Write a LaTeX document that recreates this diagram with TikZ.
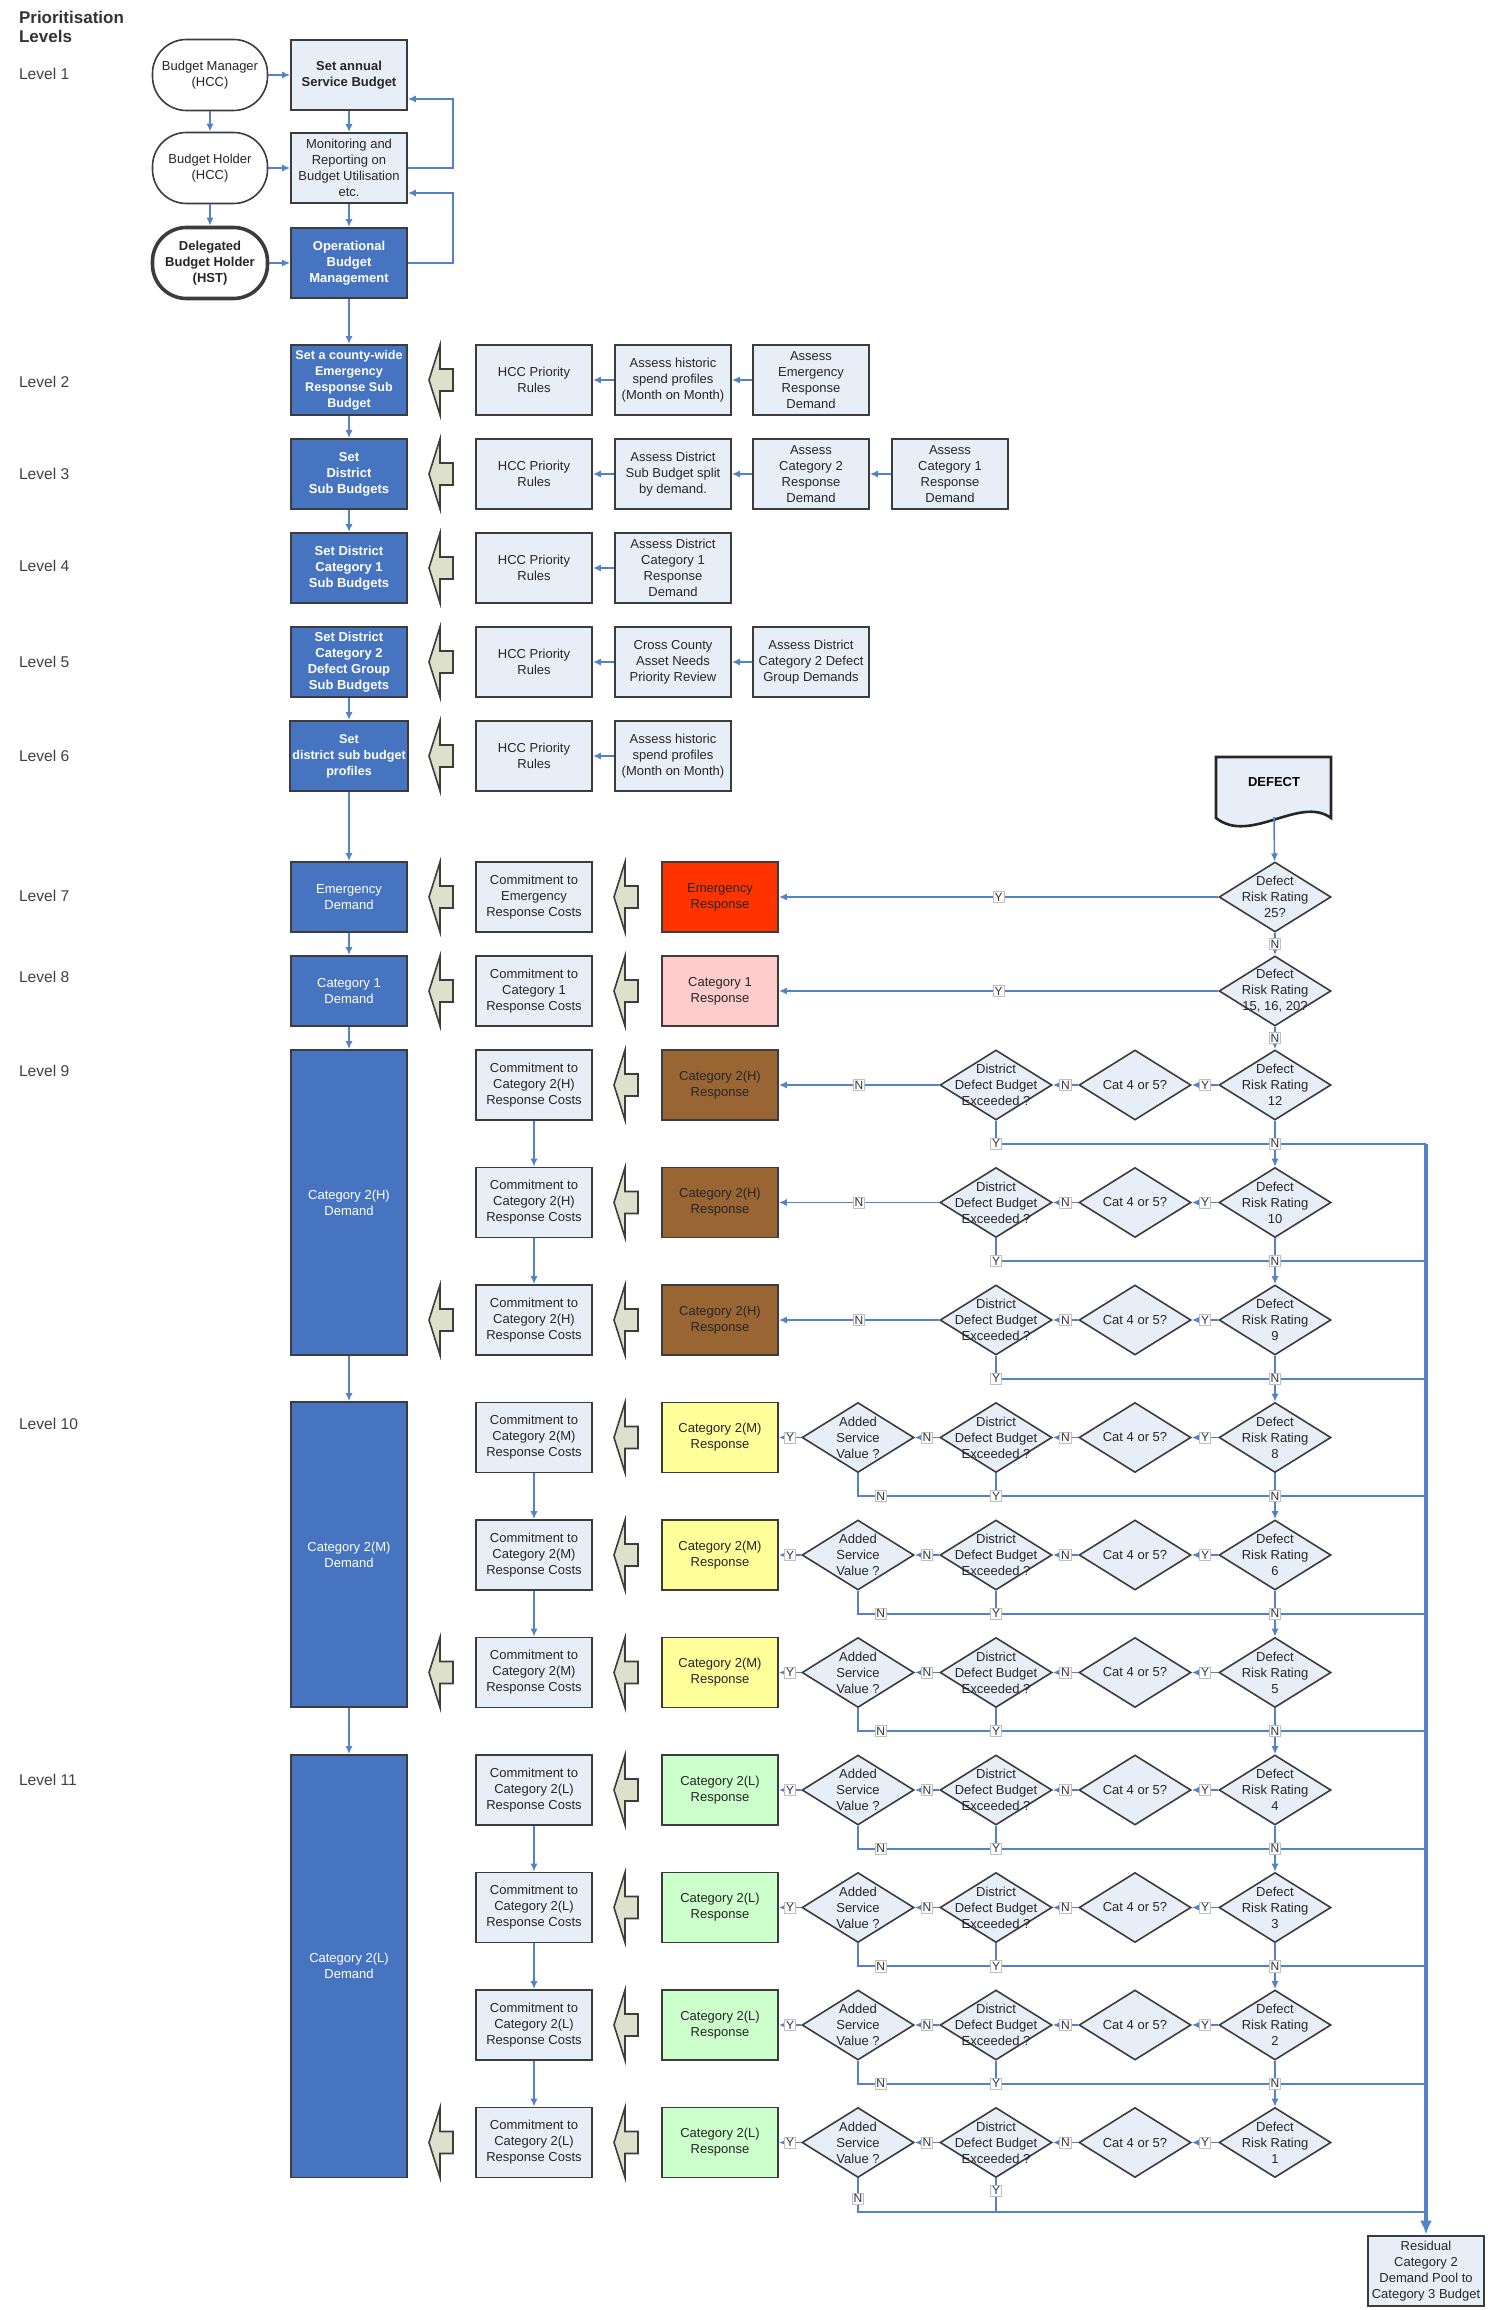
\documentclass[tikz,border=0pt]{standalone}
\usepackage{fontspec}
\setmainfont{Liberation Sans}
\usetikzlibrary{shapes.geometric,arrows.meta}

\definecolor{boxfill}{RGB}{232,238,248}
\definecolor{boxline}{RGB}{60,60,60}
\definecolor{blueb}{RGB}{70,116,193}
\definecolor{conblue}{RGB}{84,130,200}
\definecolor{arrfill}{RGB}{221,225,203}
\definecolor{emred}{RGB}{255,51,0}
\definecolor{catone}{RGB}{255,204,204}
\definecolor{cathigh}{RGB}{153,102,51}
\definecolor{catmed}{RGB}{255,255,153}
\definecolor{catlow}{RGB}{204,255,204}

\tikzset{
  txt/.style={font=\fontsize{6.5}{8}\selectfont, align=center, text=black!85},
  heavy/.style={font=\fontsize{6.5}{8}\selectfont\bfseries},
  lbox/.style={txt, rectangle, draw=boxline, fill=boxfill, line width=0.9pt,
    minimum width=58pt, minimum height=35pt, inner sep=1pt},
  bbox/.style={lbox, fill=blueb, text=white},
  resp/.style={lbox, fill=#1},
  oval/.style={txt, rectangle, rounded corners=17pt, draw=boxline, line width=0.8pt,
    fill=white, minimum width=57.5pt, minimum height=35.5pt},
  dia/.style={diamond, draw=boxline, fill=boxfill, line width=0.8pt,
    minimum width=56pt, minimum height=35pt, inner sep=0pt},
  dtxt/.style={txt, inner sep=0pt},
  con/.style={draw=conblue, line width=0.8pt, -{Latex[length=4pt,width=3.6pt]}},
  pipe/.style={draw=conblue, line width=0.8pt},
  yn/.style={font=\fontsize{6}{6}\selectfont, fill=white, draw=black!25,
    line width=0.3pt, inner sep=0.7pt, text=black!80},
  lvl/.style={font=\fontsize{7.8}{9}\selectfont, text=black!75, anchor=west},
  bigarr/.pic={\draw[fill=arrfill, draw=boxline, line width=0.8pt]
    (-12,0) -- (-1,-35) -- (-1,-11) -- (12,-11) -- (12,11) -- (-1,11) -- (-1,35) -- cycle;}
}

\begin{document}
\begin{tikzpicture}[x=0.5pt,y=-0.5pt]
  \useasboundingbox (0,0) rectangle (1487,2310);
  %Levels
  \node[lvl, font=\fontsize{8.5}{9.5}\selectfont\bfseries, align=left, text=black!80] (ttl) at (12,27) {Prioritisation\\Levels};
  \foreach \n/\yy in {1/74,2/382,3/474,4/566,5/662,6/756,7/896,8/977,9/1071,10/1424,11/1780}
    \node[lvl] (lv\n) at (12,\yy) {Level \n};

  %Level 1
  \node[oval] (bm) at (210,75) {Budget Manager\\(HCC)};
  \node[oval] (bh) at (210,168) {Budget Holder\\(HCC)};
  \node[oval, line width=1.8pt, heavy] (dbh) at (210,263) {Delegated\\Budget Holder\\(HST)};
  \node[lbox, heavy] (sab) at (349,75) {Set annual\\Service Budget};
  \node[lbox] (mon) at (349,168) {Monitoring and\\Reporting on\\Budget Utilisation\\etc.};
  \node[bbox, heavy] (obm) at (349,263) {Operational\\Budget\\Management};
  \draw[con] (bm) -- (sab);
  \draw[con] (bh) -- (mon);
  \draw[con] (dbh) -- (obm);
  \draw[con] (bm) -- (bh);
  \draw[con] (bh) -- (dbh);
  \draw[con] (sab) -- (mon);
  \draw[con] (mon) -- (obm);
  \coordinate (fb1) at (453,99);
  \coordinate (fb2) at (453,193);
  \draw[con] (mon.east) -| (fb1) -- (fb1 -| sab.east);
  \draw[con] (obm.east) -| (fb2) -- (fb2 -| mon.east);

  %Levels 2 to 6
  \node[bbox, heavy, font=\fontsize{6.3}{8}\selectfont\bfseries] (b2) at (349,380) {Set a county-wide\\Emergency\\Response Sub\\Budget};
  \node[bbox, heavy] (b3) at (349,474) {Set\\District\\Sub Budgets};
  \node[bbox, heavy] (b4) at (349,568) {Set District\\Category 1\\Sub Budgets};
  \node[bbox, heavy] (b5) at (349,662) {Set  District\\Category 2\\Defect Group\\Sub Budgets};
  \node[bbox, font=\fontsize{6.3}{8}\selectfont\bfseries] (b6) at (349,756) {Set\\district sub budget\\profiles};
  \foreach \n/\yy in {2/380,3/474,4/568,5/662,6/756} {
    \node[lbox] (h\n) at (534,\yy) {HCC Priority\\Rules};
    \pic at (441,\yy) {bigarr};
  }
  \node[lbox] (a2) at (673,380) {Assess historic\\spend profiles\\(Month on Month)};
  \node[lbox] (c2) at (811,380) {Assess\\Emergency\\Response\\Demand};
  \node[lbox] (a3) at (673,474) {Assess District\\Sub Budget split\\by demand.};
  \node[lbox] (c3) at (811,474) {Assess\\Category 2\\Response\\Demand};
  \node[lbox] (d3) at (950,474) {Assess\\Category 1\\Response\\Demand};
  \node[lbox] (a4) at (673,568) {Assess District\\Category 1\\Response\\Demand};
  \node[lbox] (a5) at (673,662) {Cross County\\Asset Needs\\Priority  Review};
  \node[lbox] (c5) at (811,662) {Assess District\\Category 2 Defect\\Group Demands};
  \node[lbox] (a6) at (673,756) {Assess historic\\spend profiles\\(Month on Month)};
  \draw[con] (c2) -- (a2);
  \draw[con] (a2) -- (h2);
  \draw[con] (d3) -- (c3);
  \draw[con] (c3) -- (a3);
  \draw[con] (a3) -- (h3);
  \draw[con] (a4) -- (h4);
  \draw[con] (c5) -- (a5);
  \draw[con] (a5) -- (h5);
  \draw[con] (a6) -- (h6);

  %Levels 7 and 8
  \node[bbox] (e7) at (349,897) {Emergency\\Demand};
  \node[bbox] (e8) at (349,991) {Category 1\\Demand};
  \node[lbox] (k7) at (534,897) {Commitment to\\Emergency\\Response Costs};
  \node[lbox] (k8) at (534,991) {Commitment to\\Category 1\\Response Costs};
  \node[resp=emred] (r7) at (720,897) {Emergency\\Response};
  \node[resp=catone] (r8) at (720,991) {Category 1\\Response};
  \node[bbox, minimum height=152.5pt] (dH) at (349,1202.5) {Category 2(H)\\Demand};
  \node[bbox, minimum height=152.5pt] (dM) at (349,1554.5) {Category 2(M)\\Demand};
  \node[bbox, minimum height=211.25pt] (dL) at (349,1966.25) {Category 2(L)\\Demand};
  \foreach \yy in {897,991,1320,1672.5,2142.5}
    \pic at (441,\yy) {bigarr};
  \foreach \yy in {897,991}
    \pic at (626,\yy) {bigarr};
  \draw[con] (obm) -- (b2);
  \draw[con] (b2) -- (b3);
  \draw[con] (b3) -- (b4);
  \draw[con] (b5) -- (b6);
  \draw[con] (b6) -- (e7);
  \draw[con] (e7) -- (e8);
  \draw[con] (e8) -- (dH);
  \draw[con] (dH) -- (dM);
  \draw[con] (dM) -- (dL);

  %Defect
  \draw[fill=boxfill, draw=black!85, line width=1.3pt] (1216,757) -- (1331,757) -- (1331,818)
    .. controls (1300,795) and (1250,845) .. (1216,818) -- cycle;
  \node[heavy] (dft) at (1274,782) {DEFECT};
  \coordinate (dfb) at (1274,817);
  \node[dia] (rk25) at (1275,897) {};
  \node[dtxt] (rkt25) at (rk25) {Defect\\Risk Rating\\25?};
  \node[dia] (rk15) at (1275,991) {};
  \node[dtxt] (rkt15) at (rk15) {Defect\\Risk Rating\\15, 16, 20?};
  \draw[con] (dfb) -- (rk25);
  \draw[con] (rk25) -- node[yn] {Y} (r7);
  \draw[con] (rk15) -- node[yn] {Y} (r8);
  \draw[con] (rk25) -- node[yn] {N} (rk15);

  %Levels 9 to 11
  \foreach \i/\g/\col/\rr in {1/H/cathigh/12,2/H/cathigh/10,3/H/cathigh/9,4/M/catmed/8,5/M/catmed/6,
      6/M/catmed/5,7/L/catlow/4,8/L/catlow/3,9/L/catlow/2,10/L/catlow/1} {
    \pgfmathsetmacro\yy{1085+117.5*(\i-1)}
    \node[lbox] (kc\i) at (534,\yy) {Commitment to\\Category 2(\g)\\Response Costs};
    \node[resp=\col] (rs\i) at (720,\yy) {Category 2(\g)\\Response};
    \pic at (626,\yy) {bigarr};
    \node[dia] (rk\i) at (1275,\yy) {};
    \node[dtxt] (rkt\i) at (rk\i) {Defect\\Risk Rating\\\rr};
    \node[dia] (ct\i) at (1135,\yy) {};
    \node[dtxt] (ctt\i) at (ct\i) {Cat 4 or 5?};
    \node[dia] (ds\i) at (996,\yy) {};
    \node[dtxt] (dst\i) at (ds\i) {District\\Defect Budget\\Exceeded ?};
    \draw[con] (rk\i) -- node[yn] {Y} (ct\i);
    \draw[con] (ct\i) -- node[yn] {N} (ds\i);
    \ifnum\i>3
      \node[dia] (ad\i) at (858,\yy) {};
      \node[dtxt] (adt\i) at (ad\i) {Added\\Service\\Value ?};
      \draw[con] (ds\i) -- node[yn] {N} (ad\i);
      \draw[con] (ad\i) -- node[yn] {Y} (rs\i);
    \else
      \draw[con] (ds\i) -- node[yn] {N} (rs\i);
    \fi
  }
  \draw[con] (rk15) -- node[yn] {N} (rk1);
  \draw[con] (kc1) -- (kc2);
  \draw[con] (kc2) -- (kc3);
  \draw[con] (kc4) -- (kc5);
  \draw[con] (kc5) -- (kc6);
  \draw[con] (kc7) -- (kc8);
  \draw[con] (kc8) -- (kc9);
  \draw[con] (kc9) -- (kc10);

  %Residual pool
  \node[lbox, line width=1.4pt] (res) at (1426,2271) {Residual\\Category 2\\Demand Pool to\\Category 3 Budget};
  \foreach \i in {1,...,9} {
    \pgfmathsetmacro\yy{1085+117.5*(\i-1)+58.75}
    \coordinate (bl\i) at (1426,\yy);
    \ifnum\i>3
      \draw[pipe] (ad\i.south) |- node[yn, pos=0.52] {N} (bl\i);
    \fi
    \draw[pipe] (ds\i.south) |- node[yn] {Y} (bl\i);
  }
  \coordinate (bl10) at (1426,2212);
  \draw[pipe] (ad10.south) |- node[yn, pos=0.3] {N} (bl10);
  \draw[pipe] (ds10.south) |- node[yn, pos=0.18] {Y} (bl10);
  \foreach \i in {1,...,9} {
    \pgfmathtruncatemacro\j{\i+1}
    \draw[con] (rk\i) -- node[yn] {N} (rk\j);
  }
  \draw[con, line width=1.8pt, -{Latex[length=7pt,width=6pt]}] (bl1) -- (res);
\end{tikzpicture}
\end{document}
